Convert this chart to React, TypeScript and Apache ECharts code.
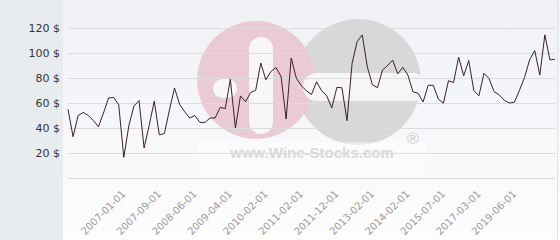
import React, { useEffect, useRef } from "react";
import * as echarts from "echarts";

const categories: string[] = [
  "2006-02-01", "2006-03-01", "2006-04-01", "2006-05-01", "2006-06-01", "2006-07-01", "2006-08-01", "2006-09-01",
  "2006-10-01", "2006-11-01", "2006-12-01", "2007-01-01", "2007-02-01", "2007-03-01", "2007-04-01", "2007-05-01",
  "2007-06-01", "2007-08-01", "2007-09-01", "2007-10-01", "2007-11-01", "2008-01-01", "2008-02-01", "2008-03-01",
  "2008-05-01", "2008-06-01", "2008-07-01", "2008-09-01", "2008-10-01", "2008-12-01", "2009-01-01", "2009-03-01",
  "2009-04-01", "2009-05-01", "2009-07-01", "2009-08-01", "2009-10-01", "2009-12-01", "2010-01-01", "2010-02-01",
  "2010-04-01", "2010-05-01", "2010-07-01", "2010-09-01", "2010-11-01", "2010-12-01", "2011-02-01", "2011-03-01",
  "2011-05-01", "2011-07-01", "2011-08-01", "2011-10-01", "2011-11-01", "2011-12-01", "2012-02-01", "2012-04-01",
  "2012-06-01", "2012-08-01", "2012-10-01", "2012-12-01", "2013-02-01", "2013-04-01", "2013-05-01", "2013-07-01",
  "2013-09-01", "2013-10-01", "2013-12-01", "2014-02-01", "2014-05-01", "2014-07-01", "2014-09-01", "2014-12-01",
  "2015-02-01", "2015-04-01", "2015-07-01", "2015-10-01", "2016-01-01", "2016-04-01", "2016-07-01", "2016-09-01",
  "2016-12-01", "2017-03-01", "2017-08-01", "2017-12-01", "2018-04-01", "2018-07-01", "2018-10-01", "2019-02-01",
  "2019-06-01", "2019-10-01", "2020-02-01", "2020-06-01", "2020-10-01", "2021-02-01", "2021-06-01", "2021-10-01",
  "2022-02-01",
];

const prices: number[] = [
  55, 33, 50, 52.5, 50, 46, 41, 52, 64, 64.5, 58.5, 16.5, 42, 57.5, 62, 24,
  42, 61.5, 34.5, 35.5, 54.5, 72, 59, 53, 48, 50, 44.5, 44.5, 48, 48, 56.5, 55.5,
  79, 40, 65.7, 61, 68.4, 70.2, 92, 78.6, 85.2, 88.4, 81.2, 47.2, 96, 80,
  73.8, 69.8, 66.8, 77, 69.8, 65.8, 56, 72.5, 72.2, 45.8, 91.8, 109.2, 114.5, 89,
  74.6, 72.2, 86.5, 90, 94.3, 83.3, 88.5, 82.4, 69, 67.8, 60.8, 74.2, 74.2, 63.2,
  59.8, 77.8, 76.3, 96.6, 81.8, 94, 69.9, 65.8, 83.8, 79.5, 69.1, 66.5, 62.2, 60,
  60.7, 70.2, 80.5, 94.5, 102, 82.3, 114.5, 94.5, 95,
];

const yTicks = { min: 0, max: 120, interval: 20 };
const labelledDates: string[] = [
  "2007-01-01", "2007-09-01", "2008-06-01", "2009-04-01", "2010-02-01", "2011-02-01",
  "2011-12-01", "2013-02-01", "2014-02-01", "2015-07-01", "2017-03-01", "2019-06-01",
];
const currency = "$";
const watermarkText = "www.Wine-Stocks.com";

export default function App() {
  const ref = useRef<HTMLDivElement>(null);
  useEffect(() => {
    if (!ref.current) return;
    const chart = echarts.init(ref.current, null, { renderer: "svg" });
    const labelSet = new Set(labelledDates);
    chart.setOption({
      animation: false,
      grid: { left: 68, right: 5, top: 28, bottom: 62, containLabel: false },
      graphic: {
        elements: [
          { type: "rect", z: -20, shape: { x: 0, y: 0, width: 63, height: 240 }, style: { fill: "#e8ecef" }, silent: true },
          {
            type: "rect", z: -20, shape: { x: 63, y: 0, width: 497, height: 240 }, silent: true,
            style: {
              fill: new echarts.graphic.LinearGradient(0, 0, 0, 1, [
                { offset: 0, color: "#eff1f5" },
                { offset: 1, color: "#fdfdfe" },
              ]),
            },
          },
          { type: "rect", z: -19, shape: { x: 557, y: 0, width: 1, height: 240 }, style: { fill: "#dfe3e7" }, silent: true },
          { type: "circle", z: -15, shape: { cx: 358, cy: 82, r: 63 }, style: { fill: "#d8d8d8" }, silent: true },
          { type: "circle", z: -14, shape: { cx: 256, cy: 80, r: 59 }, style: { fill: "#ebcbd3" }, silent: true },
          { type: "rect", z: -13, shape: { x: 249, y: 37, width: 24, height: 97, r: 12 }, style: { fill: "#f7f7fa" }, silent: true },
          { type: "rect", z: -13, shape: { x: 213, y: 79, width: 24, height: 19, r: 9.5 }, style: { fill: "#f7f7fa" }, silent: true },
          { type: "rect", z: -13, shape: { x: 303, y: 73, width: 121, height: 28, r: [14, 10, 10, 14] }, style: { fill: "#f6f6f9" }, silent: true },
          { type: "rect", z: -12, shape: { x: 197, y: 142, width: 230, height: 31 }, style: { fill: "#ffffff", opacity: 0.4 }, silent: true },
          {
            type: "text", z: -11, x: 312, y: 152, silent: true,
            style: {
              text: watermarkText, fill: "#d9d9d9", fontSize: 15, fontWeight: "bold",
              fontFamily: "Liberation Sans", align: "center", verticalAlign: "middle",
              textAlign: "center", textVerticalAlign: "middle",
            },
          },
          {
            type: "text", z: -11, x: 413, y: 138, silent: true,
            style: {
              text: "®", fill: "#d0d0d0", fontSize: 16,
              fontFamily: "Liberation Sans", align: "center", verticalAlign: "middle",
              textAlign: "center", textVerticalAlign: "middle",
            },
          },
        ],
      },
      xAxis: {
        type: "category",
        data: categories,
        boundaryGap: false,
        axisLine: { show: false },
        axisTick: { show: false },
        splitLine: { show: false },
        axisLabel: {
          interval: (i: number, v: string) => labelSet.has(v),
          rotate: 45,
          margin: 14,
          fontSize: 10,
          color: "#9a9a9a",
          fontFamily: "DejaVu Sans",
        },
      },
      yAxis: {
        type: "value",
        min: yTicks.min,
        max: yTicks.max,
        interval: yTicks.interval,
        axisLine: { show: false },
        axisTick: { show: false },
        splitLine: { lineStyle: { color: "#dcdcdc", width: 1 } },
        axisLabel: {
          formatter: (v: number) => (v === 0 ? "" : `${v} ${currency}`),
          fontSize: 11,
          color: "#333333",
          fontFamily: "DejaVu Sans",
          margin: 8,
        },
      },
      series: [
        {
          type: "line",
          data: prices,
          symbol: "none",
          lineStyle: { color: "#3a1f2c", width: 1 },
        },
      ],
    });
    return () => chart.dispose();
  }, []);
  return <div ref={ref} style={{ position: "absolute", left: 0, top: 0, width: 560, height: 240 }} />;
}
